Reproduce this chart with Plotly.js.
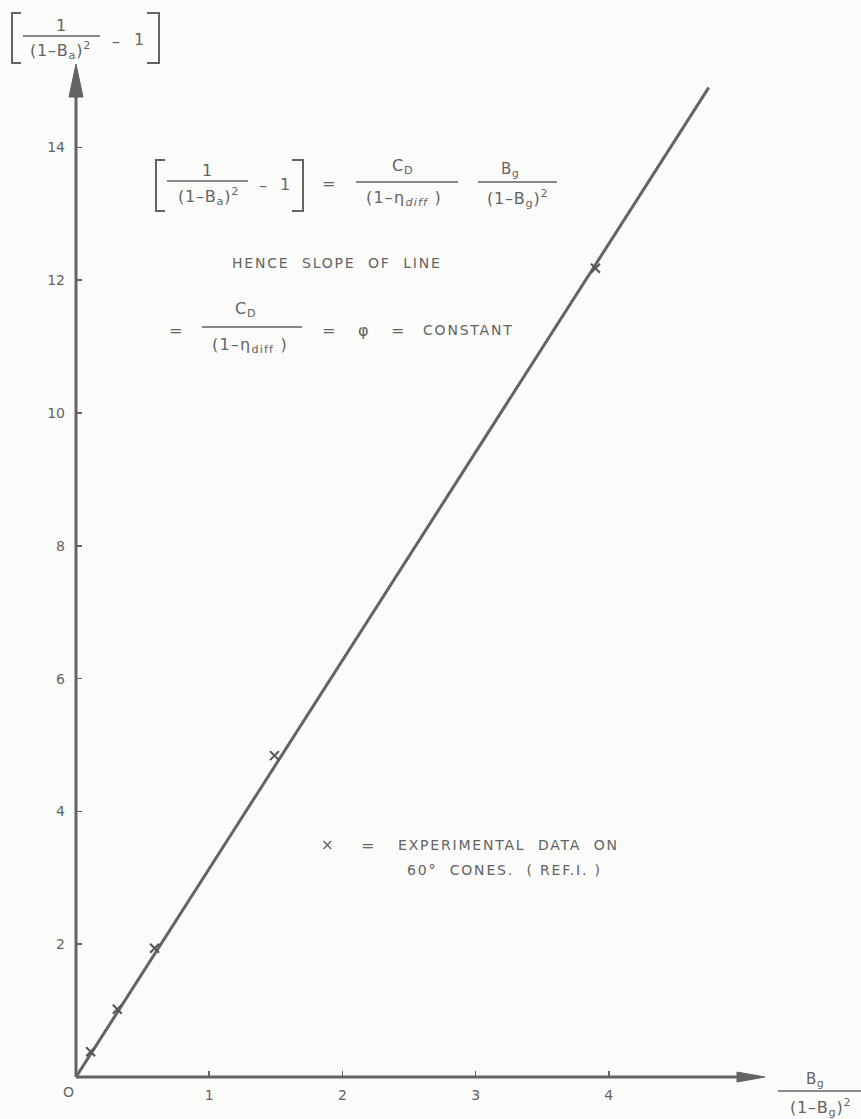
<!DOCTYPE html>
<html>
<head>
<meta charset="utf-8">
<script src="https://cdn.plot.ly/plotly-3.0.1.min.js"></script>
<style>
  html, body { margin: 0; padding: 0; background: #fbfbfa; }
  #chart { width: 861px; height: 1119px; }
</style>
</head>
<body>
<div id="chart"></div>
<script>
// Experimental points (60 degree cones) and the fitted straight line
const expX = [0.11, 0.31, 0.59, 1.49, 3.90];
const expY = [0.38, 1.02, 1.94, 4.84, 12.18];
const fitX = [0, 4.75];
const fitY = [0, 14.9];

// Axis ticks
const xTickVals = [1, 2, 3, 4];
const xTickText = ['1', '2', '3', '4'];
const yTickVals = [2, 4, 6, 8, 10, 12, 14];
const yTickText = ['2', '4', '6', '8', '10', '12', '14'];

// Page geometry
const W = 861, H = 1119;
const ML = 76, MB = 42, MT = 0, MR = 0;
const PX_X = 133.2;   // pixels per x unit
const PX_Y = 66.4;    // pixels per y unit
const plotW = W - ML - MR, plotH = H - MB - MT;
const xMax = plotW / PX_X, yMax = plotH / PX_Y;

// page pixel -> paper fraction (annotations and drawing aids live on paper)
const PX = px => (px - ML) / plotW;
const PY = py => (H - MB - py) / plotH;

const INK = '#636363';
const FONT = 'DejaVu Sans, Noto Sans, sans-serif';
const NB = '\u00a0';

const annotations = [];
function txt(px, py, text, size, spacing) {
  const fs = size || 13;
  const body = spacing
    ? '<span style="letter-spacing:' + spacing + 'px;font-size:' + fs + 'px">' + text + '</span>'
    : text;
  annotations.push({
    x: PX(px), y: PY(py), xref: 'paper', yref: 'paper',
    text: body,
    showarrow: false, xanchor: 'center', yanchor: 'middle',
    font: { family: FONT, size: fs, color: INK }
  });
}

const shapes = [];
function hbar(x0, x1, py, w) {
  shapes.push({ type: 'line', xref: 'paper', yref: 'paper',
    x0: PX(x0), x1: PX(x1), y0: PY(py), y1: PY(py),
    line: { color: INK, width: w || 1.6 } });
}
function path(points, fill, w) {
  let d = '';
  points.forEach((p, i) => { d += (i ? ' L ' : 'M ') + PX(p[0]) + ',' + PY(p[1]); });
  if (fill) d += ' Z';
  shapes.push({ type: 'path', xref: 'paper', yref: 'paper', path: d,
    fillcolor: fill ? INK : 'rgba(0,0,0,0)',
    line: { color: INK, width: w || 1.6 } });
}

// Axes with arrow heads
path([[76, 1077], [76, 90]], false, 3);
path([[69, 97], [76, 64], [83, 97]], true, 1);
path([[76, 1077], [742, 1077]], false, 3);
path([[737, 1072], [765, 1077], [737, 1082]], true, 1);

// y-axis title  [ 1/(1-Ba)^2 - 1 ]
path([[21, 13], [12, 13], [12, 63], [21, 63]], false, 2);
path([[147, 13], [159, 13], [159, 63], [147, 63]], false, 2);
txt(61, 25, '1', 16);
hbar(23, 100, 36);
txt(60, 51, '(1–B<sub>a</sub>)<sup>2</sup>', 16, 0.8);
txt(116, 41, '–', 16);
txt(139, 39, '1', 16);

// x-axis title  Bg/(1-Bg)^2
txt(815, 1079, 'B<sub>g</sub>', 15, 0.8);
hbar(778, 861, 1091);
txt(820, 1107, '(1–B<sub>g</sub>)<sup>2</sup>', 16, 0.8);

// origin
txt(68, 1092, 'O', 14);

// Equation: [1/(1-Ba)^2 - 1] = CD/(1-eta_diff) * Bg/(1-Bg)^2
path([[165, 160], [156, 160], [156, 211], [165, 211]], false, 2);
path([[292, 160], [303, 160], [303, 211], [292, 211]], false, 2);
txt(207, 170, '1', 16);
hbar(167, 248, 181);
txt(208, 197, '(1–B<sub>a</sub>)<sup>2</sup>', 16, 0.8);
txt(263, 186, '–', 16);
txt(285, 184, '1', 16);
txt(328, 183, '=', 16);
txt(402, 166, 'C<sub>D</sub>', 16, 0.8);
hbar(356, 458, 182);
txt(404, 198, '(1–η<sub><i>diff</i></sub>' + NB + ')', 16, 1.2);
txt(510, 169, 'B<sub>g</sub>', 15, 0.8);
hbar(478, 557, 182);
txt(517, 198, '(1–B<sub>g</sub>)<sup>2</sup>', 16, 0.8);

txt(337, 263, ['HENCE', 'SLOPE', 'OF', 'LINE'].join(NB + NB), 14, 1.8);

// slope = CD/(1-eta_diff) = phi = CONSTANT
txt(175, 330, '=', 16);
txt(245, 309, 'C<sub>D</sub>', 16, 0.8);
hbar(202, 302, 327);
txt(250, 346, '(1–η<sub>diff</sub>' + NB + ')', 16, 1.2);
txt(328, 330, '=', 16);
txt(363, 330, 'φ', 16);
txt(397, 330, '=', 16);
txt(468, 330, 'CONSTANT', 14, 1.8);

// key
txt(327, 845, '×', 15);
txt(367, 845, '=', 16);
txt(508, 845, ['EXPERIMENTAL', 'DATA', 'ON'].join(NB + NB), 14, 1.8);
txt(504, 870, '60°' + NB + NB + 'CONES.' + NB + NB + '(' + NB + 'REF.I.' + NB + ')', 14, 1.8);

const traces = [
  { x: fitX, y: fitY, type: 'scatter', mode: 'lines',
    line: { color: INK, width: 3 }, hoverinfo: 'skip' },
  { x: expX, y: expY, type: 'scatter', mode: 'markers',
    marker: { symbol: 'x-thin', size: 9, color: INK,
              line: { color: '#555555', width: 2 } } }
];

const axisCommon = {
  showgrid: false, zeroline: false, showline: false,
  ticks: 'inside', ticklen: 6, tickwidth: 1.6, tickcolor: INK,
  tickfont: { family: FONT, size: 14, color: INK },
  fixedrange: true
};

const layout = {
  width: W, height: H,
  margin: { l: ML, r: MR, t: MT, b: MB, pad: 0 },
  paper_bgcolor: '#fbfbfa', plot_bgcolor: '#fbfbfa',
  showlegend: false,
  xaxis: Object.assign({}, axisCommon, {
    range: [0, xMax], tickmode: 'array', tickvals: xTickVals, ticktext: xTickText,
    ticklabelstandoff: 8
  }),
  yaxis: Object.assign({}, axisCommon, {
    range: [0, yMax], tickmode: 'array', tickvals: yTickVals, ticktext: yTickText,
    ticklabelstandoff: 10
  }),
  shapes: shapes,
  annotations: annotations
};

Plotly.newPlot('chart', traces, layout, { displayModeBar: false, staticPlot: true });
</script>
</body>
</html>
